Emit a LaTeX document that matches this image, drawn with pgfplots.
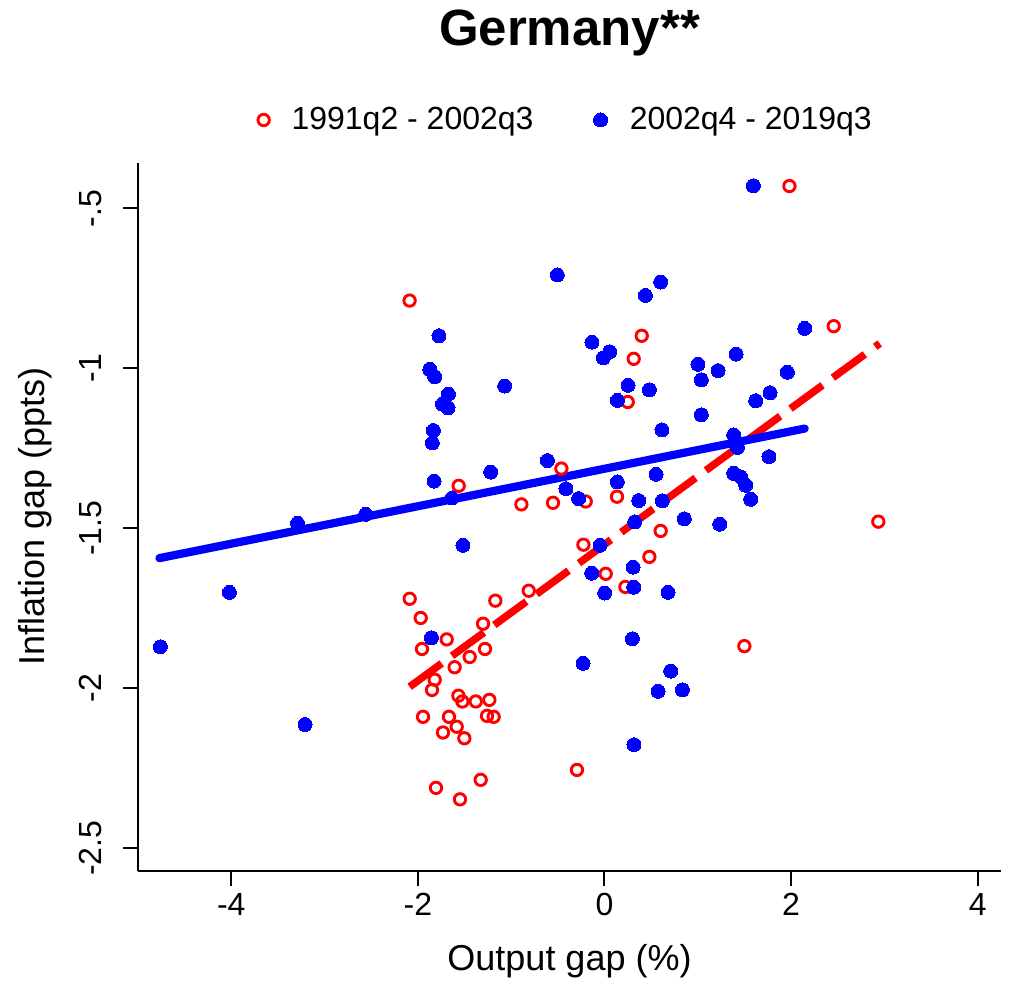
\documentclass[border=0pt]{standalone}
\usepackage{fontspec}
\setmainfont{Liberation Sans}
\usepackage{pgfplots}
\pgfplotsset{compat=1.18}
\definecolor{rred}{RGB}{255,0,0}
\definecolor{rblue}{RGB}{0,0,255}
\begin{document}
\begin{tikzpicture}
\useasboundingbox (-69pt,-54.65pt) rectangle (436pt,435.35pt);
\begin{axis}[
  at={(0pt,0pt)}, anchor=south west,
  scale only axis, width=431.5pt, height=354pt,
  xmin=-5, xmax=4.25, ymin=-2.57, ymax=-0.357,
  axis x line*=bottom, axis y line*=left,
  axis line style={-, line width=1pt, black},
  tick align=outside, major tick length=7.5pt,
  tick style={line width=1pt, black},
  xtick={-4,-2,0,2,4}, xticklabels={-4,-2,0,2,4},
  ytick={-2.5,-2,-1.5,-1,-0.5}, yticklabels={-2.5,-2,-1.5,-1,-.5},
  minor tick num=0,
  ticklabel style={font=\fontsize{16}{19}\selectfont},
  xticklabel style={anchor=north, inner sep=0pt, yshift=-3.7pt},
  yticklabel style={xshift=-10.5pt, rotate=90, anchor=south, inner sep=0pt},
  xlabel={Output gap (\%)},
  ylabel={Inflation gap (ppts)},
  label style={font=\fontsize{18}{22}\selectfont},
  xlabel style={at={(axis description cs:0.5,-0.1412)}, anchor=base, inner sep=0pt},
  ylabel style={at={(axis description cs:-0.1078,0.5)}, rotate=0, anchor=base, inner sep=0pt},
  legend columns=2,
  legend style={draw=none, fill=none, at={(axis description cs:0.139,1.0603)}, anchor=west, inner sep=0pt, outer sep=0pt,
    font=\fontsize{16}{19}\selectfont,
    /tikz/every odd column/.append style={column sep=9.1pt},
    /tikz/every even column/.append style={column sep=28pt}},
  legend image code/.code={\draw[#1] plot coordinates {(0pt,0pt)};},
  clip=false,
]
\addplot[only marks, mark=o, draw=rred, mark size=2.85pt, line width=1.45pt, forget plot] table {
x y
-2.089 -0.788
0.399 -0.898
0.313 -0.970
0.249 -1.105
-0.462 -1.313
-1.563 -1.367
-0.891 -1.425
-0.552 -1.420
-0.201 -1.416
0.134 -1.401
0.602 -1.508
-0.226 -1.551
0.481 -1.589
0.013 -1.642
0.224 -1.683
-2.088 -1.720
-1.170 -1.726
-0.812 -1.695
-1.970 -1.780
-1.302 -1.798
-1.691 -1.847
-1.956 -1.877
-1.281 -1.877
-1.445 -1.902
-1.606 -1.934
-1.820 -1.973
-1.849 -2.005
-1.566 -2.023
-1.523 -2.041
-1.380 -2.041
-1.234 -2.036
-1.945 -2.089
-1.667 -2.089
-1.259 -2.086
-1.188 -2.089
-1.584 -2.120
-1.731 -2.138
-1.502 -2.156
-0.295 -2.255
-1.806 -2.311
-1.327 -2.286
-1.549 -2.347
1.982 -0.430
2.457 -0.868
2.935 -1.479
1.499 -1.868
};
\addplot[rred, line width=3.75pt, line cap=butt, dash pattern=on 19.8pt off 6.4pt, forget plot] coordinates {(-2.088,-1.995) (2.95,-0.922)};
\addplot[rblue, line width=4.1pt, line cap=round, forget plot] coordinates {(-4.77,-1.593) (2.146,-1.188)};
\addplot[only marks, mark=*, draw=rblue, fill=rblue, mark size=3.5pt, line width=0pt, forget plot] table {
x y
-4.76 -1.87
-4.02 -1.70
-3.21 -2.113
-3.29 -1.484
-2.56 -1.456
-0.505 -0.708
0.602 -0.730
0.438 -0.772
-1.774 -0.898
-0.134 -0.918
0.056 -0.948
-0.012 -0.967
-1.873 -1.003
-1.820 -1.026
-1.07 -1.055
0.252 -1.053
0.481 -1.067
-1.673 -1.080
-1.737 -1.112
-1.677 -1.123
0.138 -1.100
0.616 -1.192
-1.834 -1.194
-1.845 -1.233
-0.612 -1.288
-1.22 -1.324
0.552 -1.331
0.138 -1.355
-1.827 -1.352
-0.413 -1.376
-0.277 -1.407
0.367 -1.413
0.620 -1.414
-1.634 -1.405
0.324 -1.480
0.855 -1.470
-1.517 -1.553
-0.048 -1.553
-0.137 -1.640
0.306 -1.621
0.313 -1.684
0.002 -1.702
0.681 -1.700
-1.855 -1.842
0.299 -1.845
-0.230 -1.922
0.710 -1.946
0.574 -2.009
0.835 -2.005
0.316 -2.176
1.596 -0.429
2.146 -0.875
1.410 -0.955
1.002 -0.987
1.217 -1.007
1.038 -1.036
1.960 -1.012
1.774 -1.076
1.621 -1.101
1.038 -1.145
1.385 -1.208
1.424 -1.247
1.763 -1.276
1.385 -1.328
1.460 -1.339
1.513 -1.365
1.567 -1.409
1.235 -1.487
};
\addlegendimage{only marks, mark=o, draw=rred, mark size=2.85pt, line width=1.45pt}
\addlegendentry{1991q2 - 2002q3}
\addlegendimage{only marks, mark=*, draw=rblue, fill=rblue, mark size=3.5pt, line width=0pt}
\addlegendentry{2002q4 - 2019q3}
\node[anchor=base, inner sep=0pt, font=\bfseries\fontsize{25.5}{30}\selectfont] at (axis description cs:0.5,1.1662) {Germany**};
\end{axis}
\end{tikzpicture}
\end{document}
